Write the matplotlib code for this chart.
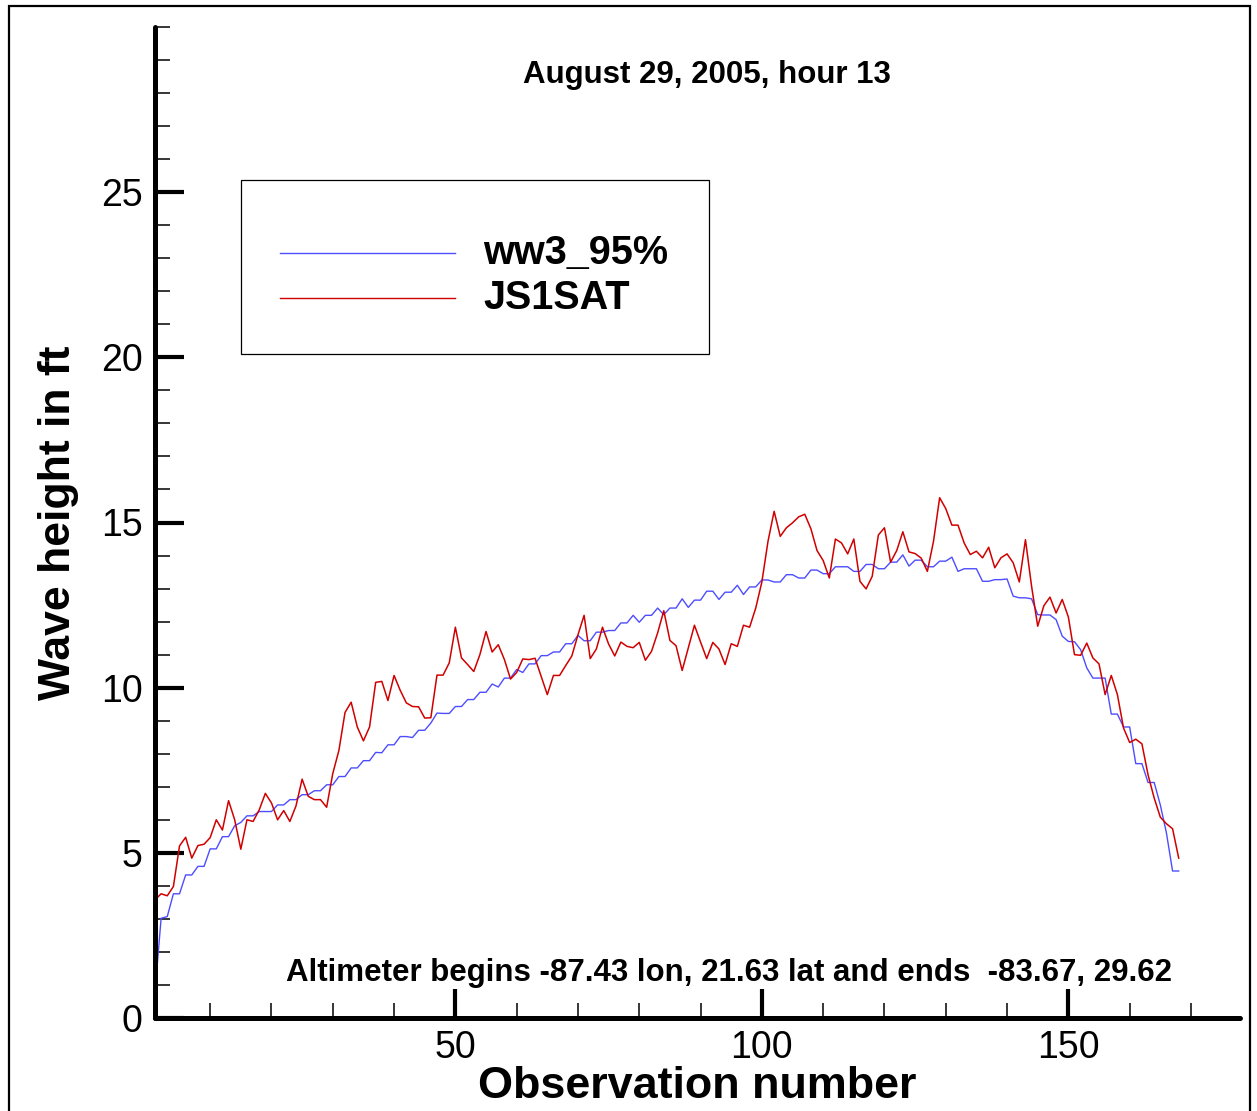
import matplotlib
matplotlib.use("Agg")
import matplotlib.pyplot as plt
from matplotlib.patches import Rectangle
from matplotlib.lines import Line2D
from matplotlib.ticker import MultipleLocator, FixedLocator

plt.rcParams['font.family'] = ['Liberation Sans', 'DejaVu Sans']

# observation numbers 1..168
obs = list(range(1, 169))

ww3_95 = [
    0.80, 3.02, 3.07, 3.76, 3.76, 4.33, 4.33, 4.59, 4.59, 5.12,
    5.12, 5.49, 5.49, 5.82, 5.92, 6.12, 6.12, 6.25, 6.25, 6.25,
    6.45, 6.45, 6.61, 6.61, 6.76, 6.76, 6.88, 6.88, 7.06, 7.06,
    7.31, 7.31, 7.57, 7.57, 7.79, 7.79, 8.04, 8.03, 8.27, 8.27,
    8.52, 8.52, 8.49, 8.71, 8.71, 8.93, 9.23, 9.22, 9.22, 9.43,
    9.43, 9.64, 9.64, 9.86, 9.86, 10.11, 10.02, 10.29, 10.29, 10.55,
    10.46, 10.72, 10.72, 10.97, 10.97, 11.08, 11.08, 11.33, 11.33, 11.58,
    11.42, 11.42, 11.68, 11.68, 11.73, 11.73, 11.96, 11.96, 12.19, 11.98,
    12.19, 12.19, 12.41, 12.21, 12.41, 12.41, 12.69, 12.43, 12.65, 12.65,
    12.92, 12.92, 12.67, 12.89, 12.89, 13.10, 12.82, 13.05, 13.05, 13.26,
    13.26, 13.20, 13.20, 13.42, 13.42, 13.32, 13.32, 13.56, 13.56, 13.45,
    13.45, 13.66, 13.66, 13.66, 13.52, 13.52, 13.73, 13.73, 13.60, 13.60,
    13.80, 13.80, 14.02, 13.68, 13.86, 13.86, 13.66, 13.66, 13.83, 13.83,
    13.95, 13.52, 13.60, 13.60, 13.60, 13.22, 13.22, 13.27, 13.27, 13.29,
    12.77, 12.72, 12.72, 12.69, 12.21, 12.20, 12.20, 12.06, 11.56, 11.40,
    11.39, 11.15, 10.60, 10.29, 10.29, 10.29, 9.20, 9.20, 8.81, 8.81,
    7.70, 7.70, 7.13, 7.13, 6.45, 5.60, 4.45, 4.45,
]

js1sat = [
    3.58, 3.76, 3.70, 3.98, 5.21, 5.47, 4.84, 5.22, 5.26, 5.46,
    6.00, 5.69, 6.58, 6.00, 5.11, 6.00, 5.95, 6.30, 6.80, 6.51,
    6.00, 6.28, 5.95, 6.42, 7.23, 6.71, 6.61, 6.61, 6.38, 7.40,
    8.10, 9.25, 9.56, 8.81, 8.39, 8.81, 10.16, 10.19, 9.61, 10.37,
    9.92, 9.54, 9.43, 9.42, 9.08, 9.09, 10.38, 10.38, 10.75, 11.83,
    10.90, 10.70, 10.49, 11.00, 11.70, 11.08, 11.30, 10.85, 10.26, 10.46,
    10.87, 10.85, 10.89, 10.34, 9.79, 10.37, 10.37, 10.67, 10.96, 11.60,
    12.19, 10.88, 11.17, 11.83, 11.32, 10.96, 11.38, 11.25, 11.21, 11.37,
    10.83, 11.10, 11.66, 12.33, 11.43, 11.27, 10.52, 11.20, 11.89, 11.38,
    10.88, 11.37, 11.17, 10.70, 11.33, 11.25, 11.89, 11.83, 12.41, 13.20,
    14.43, 15.34, 14.58, 14.84, 14.99, 15.17, 15.25, 14.81, 14.15, 13.85,
    13.32, 14.50, 14.38, 14.05, 14.50, 13.22, 12.99, 13.37, 14.62, 14.84,
    13.80, 14.15, 14.72, 14.11, 14.06, 13.92, 13.52, 14.43, 15.75, 15.42,
    14.92, 14.92, 14.38, 14.03, 14.13, 13.93, 14.25, 13.63, 13.93, 14.05,
    13.78, 13.20, 14.48, 13.07, 11.86, 12.48, 12.74, 12.26, 12.67, 12.14,
    11.00, 10.98, 11.35, 10.90, 10.72, 9.79, 10.37, 9.79, 8.78, 8.34,
    8.44, 8.30, 7.36, 6.66, 6.08, 5.88, 5.73, 4.84,
]

x_major = [50, 100, 150]
x_minor = [10, 20, 30, 40, 60, 70, 80, 90, 110, 120, 130, 140, 160, 170]

BLUE = "#4d4dff"
RED = "#d10000"


def main():
    fig = plt.figure(figsize=(12.57, 11.11), dpi=100)
    ax = fig.add_axes([155 / 1257, 1 - 1018 / 1111,
                       (1240 - 155) / 1257, (1018 - 27) / 1111])

    # outer frame
    fig.patches.append(Rectangle((9 / 1257, -0.01), (1250 - 9) / 1257,
                                 1.01 - 6 / 1111, transform=fig.transFigure,
                                 fill=False, edgecolor="black", linewidth=1.6))

    ax.plot(obs, ww3_95, color=BLUE, lw=1.0)
    ax.plot(obs, js1sat, color=RED, lw=1.1)

    ax.set_xlim(1, 178)
    ax.set_ylim(0, 30)

    for s in ("top", "right"):
        ax.spines[s].set_visible(False)
    for s in ("left", "bottom"):
        ax.spines[s].set_linewidth(3.6)
        ax.spines[s].set_capstyle("round")

    ax.xaxis.set_major_locator(FixedLocator(x_major))
    ax.xaxis.set_minor_locator(FixedLocator(x_minor))
    ax.yaxis.set_major_locator(FixedLocator([0, 5, 10, 15, 20, 25]))
    ax.yaxis.set_minor_locator(MultipleLocator(1))
    ax.tick_params(which="major", direction="in", length=21, width=3,
                   labelsize=27, pad=9)
    ax.tick_params(which="minor", direction="in", length=11, width=1.1)

    ax.set_xlabel("Observation number", fontsize=32.3, fontweight="bold",
                  labelpad=0)
    ax.set_ylabel("Wave height in ft", fontsize=32, fontweight="bold",
                  labelpad=16)

    ax.text(0.509, 0.952, "August 29, 2005, hour 13", transform=ax.transAxes,
            ha="center", va="center", fontsize=22.5, fontweight="bold")
    ax.text(0.529, 0.045,
            "Altimeter begins -87.43 lon, 21.63 lat and ends  -83.67, 29.62",
            transform=ax.transAxes, ha="center", va="center",
            fontsize=22.5, fontweight="bold")

    # legend box drawn in axes fraction
    def fx(px):
        return (px - 155) / (1240 - 155)

    def fy(py):
        return (1018 - py) / (1018 - 27)

    ax.add_patch(Rectangle((fx(241), fy(354)), fx(709) - fx(241),
                           fy(180) - fy(354), transform=ax.transAxes,
                           fill=False, edgecolor="black", lw=0.9))
    for py, col, lab in ((253, BLUE, "ww3_95%"), (298, RED, "JS1SAT")):
        ax.add_line(Line2D([fx(280), fx(455)], [fy(py), fy(py)],
                           transform=ax.transAxes, color=col, lw=1.0))
        ax.text(fx(483), fy(py), lab, transform=ax.transAxes,
                ha="left", va="center", fontsize=28.5, fontweight="bold")

    fig.savefig("out.png", dpi=100)


if __name__ == "__main__":
    main()
